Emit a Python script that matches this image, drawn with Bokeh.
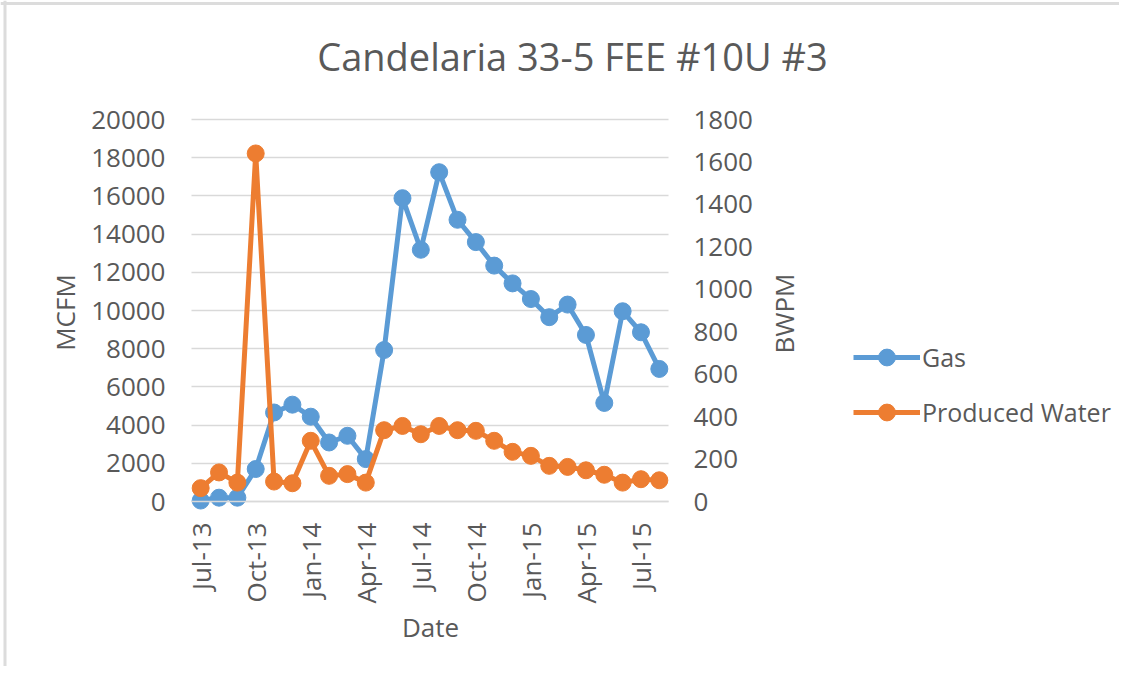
import math
from bokeh.plotting import figure
from bokeh.models import (Range1d, LinearAxis, FixedTicker, Legend, LegendItem,
                          Label, Span)
from bokeh.embed import file_html
from bokeh.resources import INLINE

months = ["Jul-13", "Aug-13", "Sep-13", "Oct-13", "Nov-13", "Dec-13",
          "Jan-14", "Feb-14", "Mar-14", "Apr-14", "May-14", "Jun-14",
          "Jul-14", "Aug-14", "Sep-14", "Oct-14", "Nov-14", "Dec-14",
          "Jan-15", "Feb-15", "Mar-15", "Apr-15", "May-15", "Jun-15",
          "Jul-15", "Aug-15"]
gas_mcfm = [50, 200, 200, 1700, 4660, 5070,
            4440, 3090, 3440, 2220, 7930, 15880,
            13180, 17240, 14750, 13580, 12350, 11420,
            10600, 9650, 10310, 8720, 5160, 9960,
            8860, 6940]
water_bwpm = [63, 137, 89, 1640, 94, 86,
              286, 121, 129, 89, 336, 356,
              317, 356, 336, 333, 286, 234,
              215, 168, 163, 147, 126, 89,
              105, 100]
tick_labels = ["Jul-13", "Oct-13", "Jan-14", "Apr-14", "Jul-14",
               "Oct-14", "Jan-15", "Apr-15", "Jul-15"]
left_ticks = [0, 2000, 4000, 6000, 8000, 10000, 12000, 14000, 16000, 18000, 20000]
right_ticks = [0, 200, 400, 600, 800, 1000, 1200, 1400, 1600, 1800]
title_text = "Candelaria 33-5 FEE #10U #3"
x_title, y1_title, y2_title = "Date", "MCFM", "BWPM"
series_names = ["Gas", "Produced Water"]

x = list(range(len(months)))
tick_pos = [months.index(t) for t in tick_labels]
x_lo, x_hi = -0.5, len(months) - 0.5
g_lo, g_hi = left_ticks[0], left_ticks[-1]
w_lo, w_hi = right_ticks[0], right_ticks[-1]

FONT = "Open Sans"
TXT = "#595959"
BLUE = "#5B9BD5"
ORANGE = "#ED7D31"

# ---- layout (pixels): the frame covers the whole canvas; the plot area
# sits inside it at left=191, right=668, top=119, bottom=501
W, H = 1119, 666
PL, PR, PT, PB = 191, 668, 119, 501
ux = (PR - PL) / (x_hi - x_lo)
ug = (PB - PT) / (g_hi - g_lo)
uw = (PB - PT) / (w_hi - w_lo)

p = figure(width=W, height=H,
           x_range=Range1d(x_lo - PL / ux, x_lo + (W - PL) / ux),
           y_range=Range1d(g_lo - (H - PB) / ug, g_hi + PT / ug),
           output_backend="svg", toolbar_location=None, title=None,
           min_border_left=0, min_border_right=0,
           min_border_top=0, min_border_bottom=0)
p.extra_y_ranges = {"water": Range1d(w_lo - (H - PB) / uw, w_hi + PT / uw)}
p.outline_line_color = None
p.background_fill_color = "white"
p.border_fill_color = "white"

# chart border (top and left edges)
p.add_layout(Span(location=H - 3, dimension="width", location_units="screen",
                  line_color="#dcdcdc", line_width=3))
p.add_layout(Span(location=4.5, dimension="height", location_units="screen",
                  line_color="#dcdcdc", line_width=3))

# grid
p.xgrid.visible = False
p.ygrid.grid_line_color = "#d9d9d9"
p.ygrid.grid_line_width = 1.5
p.ygrid.ticker = FixedTicker(ticks=left_ticks)
p.ygrid.cross_bounds = (x_lo, x_hi)

def style_axis(ax):
    ax.major_tick_line_color = None
    ax.minor_tick_line_color = None
    ax.major_label_text_font = FONT
    ax.major_label_text_font_size = "26px"
    ax.major_label_text_color = TXT

# x axis
xa = p.xaxis[0]
style_axis(xa)
xa.fixed_location = g_lo
xa.bounds = (x_lo, x_hi)
xa.ticker = FixedTicker(ticks=tick_pos)
xa.major_label_overrides = {pos: lab for pos, lab in zip(tick_pos, tick_labels)}
xa.major_label_orientation = math.pi / 2
xa.major_label_standoff = 15
xa.axis_line_color = "#d9d9d9"
xa.axis_line_width = 1.5

# left axis
ya = p.yaxis[0]
style_axis(ya)
ya.fixed_location = x_lo
ya.bounds = (g_lo, g_hi)
ya.ticker = FixedTicker(ticks=left_ticks)
ya.axis_line_color = None
ya.major_label_standoff = 20

# right axis
ra = LinearAxis(y_range_name="water", ticker=FixedTicker(ticks=right_ticks),
                fixed_location=x_hi, bounds=(w_lo, w_hi))
style_axis(ra)
ra.axis_line_color = None
ra.major_label_standoff = 19
p.add_layout(ra, "right")

# texts
def add_text(t, sx, sy, size, angle=0.0):
    p.add_layout(Label(x=sx, y=sy, x_units="screen", y_units="screen", text=t,
                       angle=angle, text_align="center", text_baseline="alphabetic",
                       text_font=FONT, text_font_size=size,
                       text_color=TXT))

add_text(title_text, 572, H - 55, "38px")
add_text(x_title, 430, H - 626, "26px")
add_text(y1_title, 64, H - 312, "26px", math.pi / 2)
add_text(y2_title, 783, H - 313, "26px", math.pi / 2)

# series
gl = p.line(x, gas_mcfm, line_color=BLUE, line_width=5)
gs = p.scatter(x, gas_mcfm, size=17, fill_color=BLUE, line_color=BLUE)
wl = p.line(x, water_bwpm, line_color=ORANGE, line_width=5, y_range_name="water")
ws = p.scatter(x, water_bwpm, size=17, fill_color=ORANGE, line_color=ORANGE,
               y_range_name="water")

legend = Legend(items=[LegendItem(label=series_names[0], renderers=[gl, gs]),
                       LegendItem(label=series_names[1], renderers=[wl, ws])],
                location=(853, H - 433), orientation="vertical")
legend.border_line_color = None
legend.background_fill_alpha = 0
legend.label_text_font = FONT
legend.label_text_font_size = "25px"
legend.label_text_color = TXT
legend.glyph_width = 67
legend.glyph_height = 42
legend.spacing = 13
legend.label_standoff = 2
legend.padding = 0
legend.margin = 0
p.add_layout(legend, "center")

open("out.html", "w").write(file_html(p, INLINE))
